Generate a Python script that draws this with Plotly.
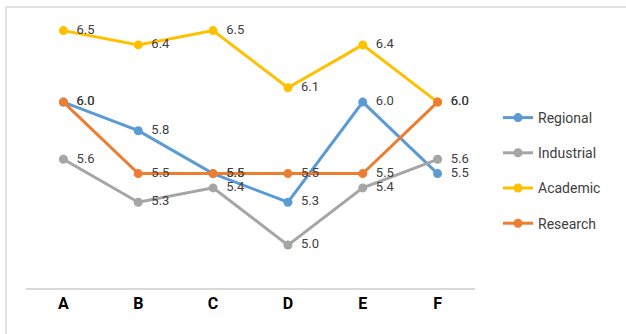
import plotly.graph_objects as go

categories = ["A", "B", "C", "D", "E", "F"]
regional = [6.0, 5.8, 5.5, 5.3, 6.0, 5.5]
industrial = [5.6, 5.3, 5.4, 5.0, 5.4, 5.6]
academic = [6.5, 6.4, 6.5, 6.1, 6.4, 6.0]
research = [6.0, 5.5, 5.5, 5.5, 5.5, 6.0]

series = [
    ("Regional", regional, "#5B9BD5"),
    ("Industrial", industrial, "#A5A5A5"),
    ("Academic", academic, "#FFC000"),
    ("Research", research, "#ED7D31"),
]

FONT = "Liberation Sans Narrow, Roboto, Arial, sans-serif"

fig = go.Figure()
for i, (name, vals, col) in enumerate(series):
    fig.add_trace(go.Scatter(
        x=categories, y=vals, name=name, mode="lines+markers+text",
        line=dict(color=col, width=3),
        marker=dict(color=col, size=9),
        text=["\u00a0\u00a0" + f"{v:.1f}" for v in vals],
        textposition="middle right",
        textfont=dict(family=FONT, size=13, color="#404040"),
        legendgroup=f"g{i}",
    ))

W, H = 626, 334
l, r, t, b = 26, 151, 10, 46
pw, ph = W - l - r, H - t - b

fig.update_layout(
    width=W, height=H,
    margin=dict(l=l, r=r, t=t, b=b),
    paper_bgcolor="white", plot_bgcolor="white",
    showlegend=True,
    legend=dict(
        x=(498 - l) / pw, y=1 - (102 - t) / ph, xanchor="left", yanchor="top",
        font=dict(family=FONT, size=14, color="#404040"),
        traceorder="grouped", tracegroupgap=14,
        bgcolor="rgba(0,0,0,0)",
    ),
    xaxis=dict(
        showgrid=False, zeroline=False, showline=True, linecolor="#D9D9D9",
        linewidth=1.5, ticks="",
        tickfont=dict(family=FONT, size=16, color="#000000", weight="bold"),
        range=[-0.5, 5.5],
    ),
    yaxis=dict(
        showgrid=False, zeroline=False, showline=False, showticklabels=False,
        range=[4.7, 4.7 + ph / 143.0],
    ),
    shapes=[dict(
        type="rect", xref="paper", yref="paper",
        x0=(6 - l) / pw, x1=(W + 10 - l) / pw,
        y0=-(b + 10) / ph, y1=1 + (t - 7) / ph,
        line=dict(color="#D9D9D9", width=1.5), fillcolor="rgba(0,0,0,0)",
        layer="below",
    )],
)

fig.write_html("out.html")
